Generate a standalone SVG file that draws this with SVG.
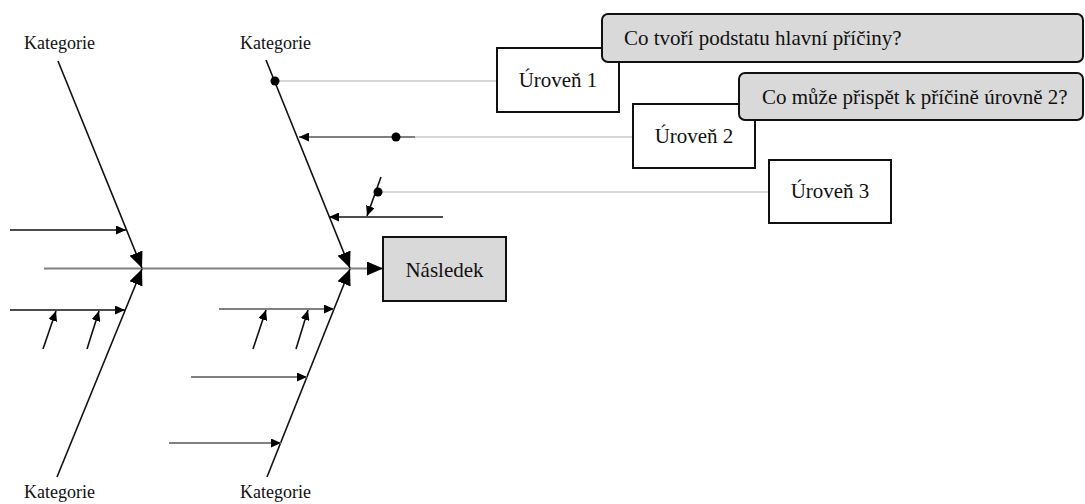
<svg xmlns="http://www.w3.org/2000/svg" width="1085" height="504" viewBox="0 0 1085 504">
<style>
text{font-family:'Liberation Serif','Tinos','Times New Roman','DejaVu Serif',serif;fill:#111}
.cat{font-size:18px}
.lbl{font-size:21px}
.bone{stroke:#111;stroke-width:1.6;fill:none}
.gray{stroke:#808080;stroke-width:2;fill:none}
.thin{stroke:#b0b0b0;stroke-width:1.2;fill:none}
.box{fill:#fff;stroke:#111;stroke-width:2}
.gbox{fill:#d9d9d9;stroke:#111;stroke-width:2}
</style>
<defs>
<marker id="big" markerUnits="userSpaceOnUse" markerWidth="17" markerHeight="14" refX="16" refY="7" orient="auto"><path d="M0,0 L16,7 L0,14 z" fill="#000"/></marker>
<marker id="sm" markerUnits="userSpaceOnUse" markerWidth="11" markerHeight="9" refX="10" refY="4.5" orient="auto"><path d="M0,0 L10,4.5 L0,9 z" fill="#000"/></marker>
</defs>
<g id="connectors">
<line class="gray" x1="44" y1="268.5" x2="383" y2="268.5" marker-end="url(#big)"/>
<line class="bone" x1="58" y1="61" x2="142" y2="268" marker-end="url(#big)"/>
<line class="bone" x1="57" y1="477" x2="142" y2="269" marker-end="url(#big)"/>
<line class="bone" x1="266" y1="60" x2="350" y2="268" marker-end="url(#big)"/>
<line class="bone" x1="267" y1="477" x2="350" y2="269" marker-end="url(#big)"/>
<line class="bone" x1="10" y1="230" x2="126" y2="230" marker-end="url(#sm)"/>
<line class="bone" x1="10" y1="310" x2="125" y2="310" marker-end="url(#sm)"/>
<line class="bone" x1="43" y1="349" x2="56" y2="311" marker-end="url(#sm)"/>
<line class="bone" x1="87" y1="349" x2="99" y2="311" marker-end="url(#sm)"/>
<line class="gray" x1="219" y1="309" x2="334" y2="309" marker-end="url(#sm)"/>
<line class="bone" x1="253" y1="349" x2="266" y2="310" marker-end="url(#sm)"/>
<line class="bone" x1="296" y1="349" x2="308" y2="310" marker-end="url(#sm)"/>
<line class="gray" x1="191" y1="377" x2="307" y2="377" marker-end="url(#sm)"/>
<line class="gray" x1="169" y1="443" x2="281" y2="443" marker-end="url(#sm)"/>
<line class="thin" x1="275" y1="81" x2="497" y2="81"/>
<circle cx="275" cy="81" r="4.5" fill="#000"/>
<line class="thin" x1="415" y1="137" x2="633" y2="137"/>
<line class="gray" x1="415" y1="137" x2="299" y2="137" marker-end="url(#sm)"/>
<circle cx="396" cy="137" r="4.5" fill="#000"/>
<line class="bone" x1="443" y1="217" x2="329" y2="217" marker-end="url(#sm)"/>
<line class="bone" x1="381" y1="177" x2="367" y2="216" marker-end="url(#sm)"/>
<line class="thin" x1="378" y1="192" x2="769" y2="192"/>
<circle cx="378" cy="192" r="4.5" fill="#000"/>
</g>
<g id="cat-top-left"><text class="cat" x="24" y="49">Kategorie</text></g>
<g id="cat-top-right"><text class="cat" x="240" y="49">Kategorie</text></g>
<g id="cat-bottom-left"><text class="cat" x="24" y="498">Kategorie</text></g>
<g id="cat-bottom-right"><text class="cat" x="240" y="498">Kategorie</text></g>
<g id="nasledek"><rect class="gbox" x="383" y="237" width="123" height="64"/><text class="lbl" x="444.5" y="277" text-anchor="middle">Následek</text></g>
<g id="uroven1"><rect class="box" x="497" y="48" width="122" height="64"/><text class="lbl" x="558" y="87" text-anchor="middle">Úroveň 1</text></g>
<g id="callout1"><rect class="gbox" x="602" y="14" width="481" height="48" rx="6"/><text class="lbl" x="624" y="45">Co tvoří podstatu hlavní příčiny?</text></g>
<g id="uroven2"><rect class="box" x="633" y="104" width="122" height="64"/><text class="lbl" x="694" y="143" text-anchor="middle">Úroveň 2</text></g>
<g id="callout2"><rect class="gbox" x="739" y="73" width="344" height="47" rx="6"/><text class="lbl" x="762" y="104">Co může přispět k příčině úrovně 2?</text></g>
<g id="uroven3"><rect class="box" x="769" y="160" width="122" height="63"/><text class="lbl" x="830" y="198" text-anchor="middle">Úroveň 3</text></g>
</svg>
